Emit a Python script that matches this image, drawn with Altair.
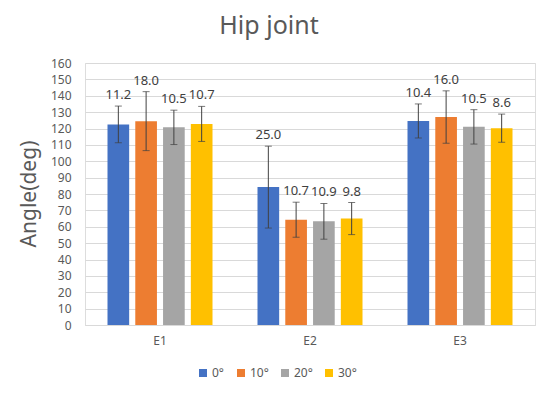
import altair as alt
import pandas as pd

groups = ["E1", "E2", "E3"]
series = ["0°", "10°", "20°", "30°"]
means = {
    "E1": [122.5, 124.5, 120.7, 122.8],
    "E2": [84.2, 64.3, 63.3, 65.0],
    "E3": [124.6, 127.0, 121.0, 120.2],
}
sds = {
    "E1": [11.2, 18.0, 10.5, 10.7],
    "E2": [25.0, 10.7, 10.9, 9.8],
    "E3": [10.4, 16.0, 10.5, 8.6],
}
colors = ["#4472C4", "#ED7D31", "#A5A5A5", "#FFC000"]
y_title = "Angle(deg)"

rows = []
for g in groups:
    for i, s in enumerate(series):
        m = means[g][i]
        sd = sds[g][i]
        rows.append({"group": g, "series": s, "mean": m, "sd": sd,
                     "lo": m - sd, "hi": m + sd, "label": f"{sd:.1f}"})
df = pd.DataFrame(rows)

FONT = "Noto Sans"
GRAY = "#595959"

yscale = alt.Scale(domain=[0, 160], nice=False)
yaxis = alt.Axis(title=None, values=list(range(0, 161, 10)),
                 labelOverlap=False,
                 labelFontSize=12, labelColor=GRAY, labelFont=FONT,
                 ticks=False, domain=False, gridColor="#D9D9D9",
                 labelPadding=14)
xaxis = alt.Axis(title=None, labelAngle=0, labelFontSize=12, labelColor=GRAY,
                 labelFont=FONT, ticks=False, domain=True, domainColor="#D9D9D9",
                 labelPadding=10, grid=False)
x_enc = alt.X("group:N", sort=groups,
              scale=alt.Scale(paddingInner=0.3, paddingOuter=0.15), axis=xaxis)
xo = alt.XOffset("series:N", sort=series, scale=alt.Scale(paddingInner=0.22, paddingOuter=0))

base = alt.Chart(df).encode(x=x_enc, xOffset=xo)

bars = base.mark_bar().encode(
    y=alt.Y("mean:Q", scale=yscale, axis=yaxis),
    color=alt.Color("series:N", sort=series,
                    scale=alt.Scale(domain=series, range=colors),
                    legend=alt.Legend(title=None, orient="none", direction="horizontal",
                                      legendX=112, legendY=304, symbolType="square",
                                      symbolSize=64, symbolStrokeWidth=0,
                                      labelFontSize=12, labelColor=GRAY, labelFont=FONT,
                                      labelOffset=3, columnPadding=10, symbolOpacity=1)),
)

rule = base.mark_rule(color="#404040", strokeWidth=1).encode(
    y=alt.Y("lo:Q", scale=yscale, axis=yaxis), y2="hi:Q")
cap_hi = base.mark_tick(color="#404040", thickness=1, size=7, orient="horizontal").encode(
    y=alt.Y("hi:Q", scale=yscale, axis=yaxis))
cap_lo = base.mark_tick(color="#404040", thickness=1, size=7, orient="horizontal").encode(
    y=alt.Y("lo:Q", scale=yscale, axis=yaxis))
labels = base.mark_text(dy=-11, fontSize=13, color="#404040", font=FONT).encode(
    y=alt.Y("hi:Q", scale=yscale, axis=yaxis), text="label:N")

# y-axis title drawn as a text mark in screen space
ytitle = alt.Chart(pd.DataFrame({"t": [y_title]})).mark_text(
    angle=270, fontSize=21, color=GRAY, font=FONT, baseline="middle", align="center"
).encode(x=alt.value(-55), y=alt.value(131), text="t:N")

chart = alt.layer(bars, rule, cap_hi, cap_lo, labels, ytitle).properties(
    width=450, height=262,
    title=alt.TitleParams("Hip joint", fontSize=25, color=GRAY, font=FONT,
                          fontWeight="normal", anchor="middle", dx=-41, offset=18),
    autosize=alt.AutoSizeParams(type="none"),
    padding={"left": 77, "top": 55, "right": 16, "bottom": 70},
).configure_view(stroke=None).configure(background="white")

chart.save("out.html", embed_options={"renderer": "svg", "actions": False})
